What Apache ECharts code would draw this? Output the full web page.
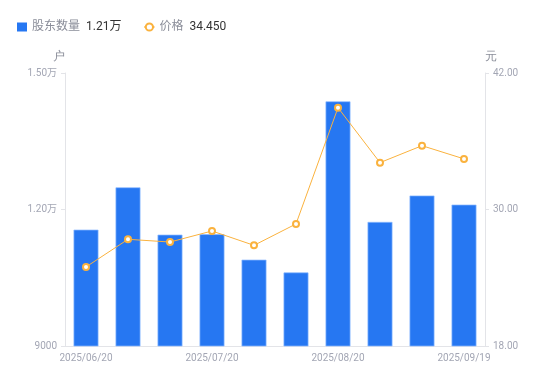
<!DOCTYPE html>
<html><head><meta charset="utf-8">
<script src="https://cdn.jsdelivr.net/npm/echarts@6/dist/echarts.min.js"></script>
<style>html,body{margin:0;padding:0;background:#fff}#c{width:550px;height:381px}</style>
</head><body><div id="c"></div>
<script>
const categories = ['2025/06/20','2025/06/30','2025/07/10','2025/07/20','2025/07/31','2025/08/10','2025/08/20','2025/08/31','2025/09/10','2025/09/19'];
const holders = [11560, 12490, 11450, 11460, 10900, 10620, 14380, 11730, 12310, 12110];
const prices = [24.95, 27.38, 27.14, 28.11, 26.85, 28.73, 38.95, 34.12, 35.61, 34.45];
const leftTicks = {min: 9000, max: 15000, interval: 3000};
const rightTicks = {min: 18, max: 42, interval: 12};

function fmtWan(v){ return v >= 10000 ? (v/10000).toFixed(2) + '万' : String(v); }
const lastVals = {'股东数量': fmtWan(holders[holders.length-1]), '价格': prices[prices.length-1].toFixed(3)};

const chart = echarts.init(document.getElementById('c'), null, {renderer:'canvas'});
const axisLabelColor = '#a3a6b4';
const ff = 'Roboto, "Noto Sans CJK SC", sans-serif';
chart.setOption({
  animation: false,
  legend: {
    left: 12, top: 16, itemGap: 22,
    itemWidth: 10, itemHeight: 9,
    textStyle: {
      fontSize: 12,
      rich: {
        n: {color: '#8a8d99', fontSize: 12, fontFamily: ff},
        v: {color: '#333', fontSize: 12, fontFamily: ff, padding: [0,0,0,6]}
      }
    },
    formatter: name => '{n|' + name + '}{v|' + lastVals[name] + '}',
    data: [{name:'股东数量', icon:'rect', itemStyle:{borderWidth: 0}}, {name:'价格'}]
  },
  grid: {left: 65, right: 65, top: 73, bottom: 35},
  xAxis: {
    type: 'category', data: categories,
    axisLine: {lineStyle: {color: '#e3e4e8'}},
    axisTick: {show: false},
    axisLabel: {color: axisLabelColor, fontSize: 10, interval: 2, margin: 7, fontFamily: 'Roboto, sans-serif'}
  },
  yAxis: [{
    type: 'value', name: '户', nameGap: 10,
    nameTextStyle: {color: '#8a8d99', fontSize: 12, align: 'right'},
    min: leftTicks.min, max: leftTicks.max, interval: leftTicks.interval,
    axisLine: {show: true, lineStyle: {color: '#e3e4e8'}},
    axisTick: {show: true, length: 4, lineStyle: {color: '#e3e4e8'}},
    splitLine: {show: false},
    axisLabel: {color: axisLabelColor, fontSize: 10, margin: 8, fontFamily: ff, formatter: fmtWan}
  },{
    type: 'value', name: '元', nameGap: 10, position: 'right',
    nameTextStyle: {color: '#8a8d99', fontSize: 12, align: 'left'},
    min: rightTicks.min, max: rightTicks.max, interval: rightTicks.interval,
    axisLine: {show: true, lineStyle: {color: '#e3e4e8'}},
    axisTick: {show: true, length: 4, lineStyle: {color: '#e3e4e8'}},
    splitLine: {show: false},
    axisLabel: {color: axisLabelColor, fontSize: 10, margin: 8, fontFamily: 'Roboto, sans-serif', formatter: v => v.toFixed(2)}
  }],
  series: [{
    name: '股东数量', type: 'bar', yAxisIndex: 0, data: holders, barWidth: '60%',
    itemStyle: {color: '#2677f2', borderColor: 'rgba(140,185,255,0.7)', borderWidth: 1}
  },{
    name: '价格', type: 'line', yAxisIndex: 1, data: prices,
    symbol: 'emptyCircle', symbolSize: 6,
    lineStyle: {color: '#fab23e', width: 1},
    itemStyle: {color: '#fab23e', borderWidth: 2}
  }]
});
</script></body></html>
